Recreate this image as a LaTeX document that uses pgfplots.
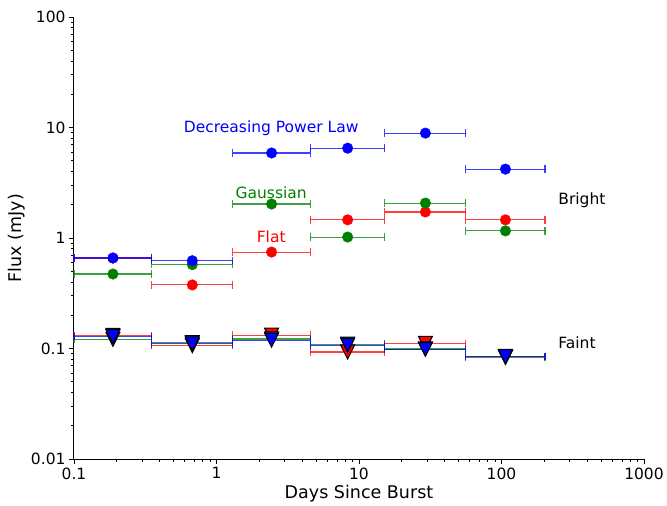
\documentclass[border=0pt]{standalone}
\usepackage{fontspec}
\setmainfont{DejaVu Sans}
\usepackage{pgfplots}
\usepackage{pgfplotstable}
\pgfplotsset{compat=1.18}

% downward triangle, as wide as tall, centred on the point
\pgfdeclareplotmark{vtri}{%
  \pgfpathmoveto{\pgfqpoint{-\pgfplotmarksize}{\pgfplotmarksize}}%
  \pgfpathlineto{\pgfqpoint{\pgfplotmarksize}{\pgfplotmarksize}}%
  \pgfpathlineto{\pgfqpoint{0pt}{-\pgfplotmarksize}}%
  \pgfpathclose
  \pgfusepathqfillstroke}

\definecolor{mblue}{RGB}{0,0,255}
\definecolor{mgreen}{RGB}{0,128,0}
\definecolor{mred}{RGB}{255,0,0}

% bin centre, lower and upper half widths, then bright and faint fluxes
\pgfplotstableread{
x      em      ep      bb     bg     br     fb      fg      fr
0.1876 0.0876  0.1644  0.659  0.472  0.659  0.128   0.121   0.1316
0.6765 0.3245  0.6235  0.623  0.574  0.376  0.110   0.1133  0.106
2.435  1.135   2.125   5.88   2.03   0.746  0.119   0.122   0.132
8.325  3.765   6.875   6.5    1.02   1.46   0.107   0.1095  0.093
29.25  14.05   27.05   8.9    2.07   1.72   0.0984  0.099   0.1114
106.6  50.3    95.4    4.2    1.16   1.46   0.0843  0.0829  0.085
}\bins

\pgfplotsset{
  binerr/.style={
    error bars/.cd, x dir=both, x explicit,
    error bar style={line width=1.1pt, opacity=0.75},
    error mark options={rotate=90, mark size=3.7pt, line width=1.1pt, opacity=0.75},
  },
  bright/.style={only marks, mark=*, mark size=5.3pt, color=#1,
    mark options={fill=#1, draw=#1}},
  faint/.style={only marks, mark=vtri, mark size=7pt, color=#1,
    mark options={fill=#1, draw=black, line width=1pt}},
}

\begin{document}
\begin{tikzpicture}
\useasboundingbox (-74pt,-47pt) rectangle (593pt,459pt);
\begin{axis}[
  at={(0pt,0pt)}, anchor=south west,
  scale only axis, width=570pt, height=442pt,
  xmode=log, ymode=log,
  xmin=0.1, xmax=1000, ymin=0.01, ymax=100,
  axis x line*=bottom, axis y line*=left,
  axis line style={-, line width=1pt},
  tick align=outside,
  major tick length=5pt, minor tick length=3pt,
  every tick/.style={black, line width=0.8pt},
  xtick={0.1,1,10,100,1000}, xticklabels={0.1,1,10,100,1000},
  ytick={0.01,0.1,1,10,100}, yticklabels={0.01,0.1,1,10,100},
  tick label style={font=\fontsize{15.5}{18}\selectfont},
  label style={font=\fontsize{17.5}{20}\selectfont},
  xlabel={Days Since Burst}, ylabel={Flux (mJy)},
  xlabel style={at={(axis description cs:0.5,-0.079)}, anchor=center},
  ylabel style={at={(axis description cs:-0.1,0.5)}, anchor=center},
  clip=false,
]
\addplot[bright=mred, binerr] table[x=x, y=br, x error minus=em, x error plus=ep] {\bins};
\addplot[bright=mgreen, binerr] table[x=x, y=bg, x error minus=em, x error plus=ep] {\bins};
\addplot[bright=mblue, binerr] table[x=x, y=bb, x error minus=em, x error plus=ep] {\bins};

\addplot[faint=mred, binerr] table[x=x, y=fr, x error minus=em, x error plus=ep] {\bins};
\addplot[faint=mgreen, binerr] table[x=x, y=fg, x error minus=em, x error plus=ep] {\bins};
\addplot[faint=mblue, binerr] table[x=x, y=fb, x error minus=em, x error plus=ep] {\bins};

\node[anchor=base, text=mblue, font=\fontsize{15.5}{18}\selectfont] at (axis cs:2.42,9.0) {Decreasing Power Law};
\node[anchor=base, text=mgreen, font=\fontsize{15.5}{18}\selectfont] at (axis cs:2.42,2.29) {Gaussian};
\node[anchor=base, text=mred, font=\fontsize{15.5}{18}\selectfont] at (axis cs:2.42,0.907) {Flat};
\node[anchor=base west, inner sep=0pt, font=\fontsize{15.5}{18}\selectfont] at (axis cs:250,2) {Bright};
\node[anchor=base west, inner sep=0pt, font=\fontsize{15.5}{18}\selectfont] at (axis cs:250,0.1) {Faint};
\end{axis}
\end{tikzpicture}
\end{document}
